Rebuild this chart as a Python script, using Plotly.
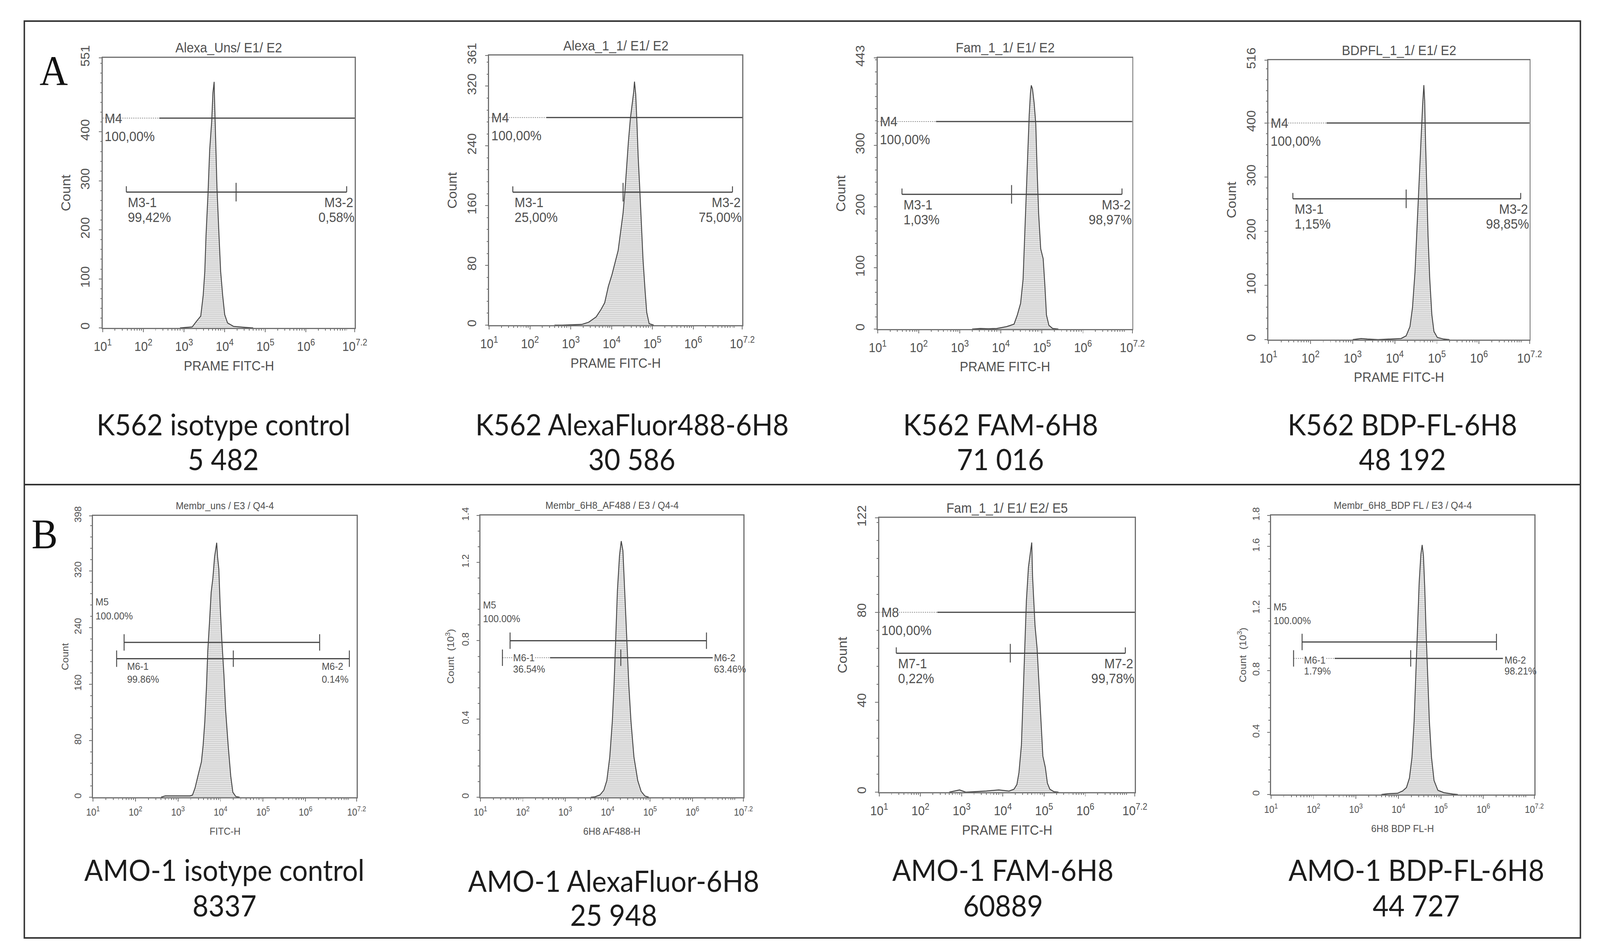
import numpy as np
import plotly.graph_objects as go

W, H = 4406, 2436

# ---------------------------------------------------------------------
# Histogram outlines: fluorescence intensity vs. events

# Row A - K562
A1_FL = [794, 1122, 1585, 2089, 2570, 2951, 3236, 3467, 3890, 4266, 4786, 5129, 5495, 5623,
         6026, 6457, 7244, 7943, 8913, 10000, 11749, 16596, 32359, 50119]
A1_COUNT = [0, 1, 2, 15, 24, 66, 115, 188, 276, 363, 422, 480, 502, 466,
            383, 285, 188, 115, 66, 27, 10, 3, 1, 0]

A2_FL = [398, 617, 1862, 2754, 4169, 5495, 6761, 8318, 10233, 12589, 14454, 16596, 19055, 21380,
         23442, 25704, 28840, 32359, 34674, 36308, 38905, 41687, 44668, 48978, 53703, 58884,
         66069, 72444, 83176, 107152]
A2_COUNT = [0, 0, 1, 4, 11, 21, 30, 52, 68, 87, 100, 125, 150, 182,
            214, 245, 277, 299, 312, 326, 309, 271, 226, 182, 134, 87,
            46, 17, 2, 0]

A3_FL = [1995, 3162, 5012, 7943, 13804, 20893, 25119, 30200, 34674, 38019, 41687, 45709, 48978,
         52481, 54954, 58884, 64565, 70795, 75858, 83176, 93325, 107152, 117490, 128825, 147911,
         181970, 251189]
A3_COUNT = [0, 1, 0.5, 1, 4, 8, 23, 42, 81, 150, 227, 296, 350,
            385, 398, 392, 369, 335, 265, 188, 131, 115, 73, 23, 6,
            1, 0]

A4_FL = [1000, 1585, 2239, 3981, 14125, 18621, 22909, 26303, 30200, 33113, 37154, 41687, 45709,
         48978, 51286, 53703, 57544, 61660, 67608, 75858, 85114, 102329, 144544, 199526]
A4_COUNT = [0, 2, 1, 0, 2, 7, 24, 59, 125, 191, 278, 366, 432,
            470, 441, 366, 278, 191, 112, 46, 15, 4, 1, 0]

# Row B - AMO-1
B1_FL = [398, 501, 1000, 1905, 2188, 2512, 3020, 3548, 3890, 4266, 4677, 5012, 5495, 6026, 6607,
         7244, 8128, 8511, 9120, 9772, 10715, 12023, 13183, 15136, 17378, 19498, 22909, 28184]
B1_COUNT = [0, 2, 2, 2, 3, 13, 33, 50, 73, 107, 157, 207, 247, 290, 310,
            340, 360, 340, 323, 273, 223, 173, 123, 73, 30, 7, 1, 0]

B2_FL = [3981, 5012, 6607, 8128, 9550, 11220, 12882, 14125, 15488, 16982, 19055, 20893, 22909,
         25119, 28184, 31623, 35481, 41687, 51286, 61660, 75858, 93325]
B2_COUNT_K = [0, 0.002, 0.012, 0.036, 0.085, 0.206, 0.388, 0.57, 0.81, 1.055, 1.236, 1.309, 1.26,
              1.055, 0.81, 0.57, 0.388, 0.206, 0.085, 0.03, 0.006, 0]

B3_FL = [501, 891, 1259, 3981, 7943, 14125, 18621, 21878, 24547, 28184, 30903, 33884, 37154, 41687,
         46774, 50119, 52481, 56234, 60256, 67608, 74131, 83176, 93325, 107152, 120226, 138038,
         173780, 223872]
B3_COUNT = [0, 1, 0, 0.5, 1, 0.5, 1.3, 3.4, 8.7, 21, 42, 64, 85, 100,
            107, 111, 96, 84, 74, 64, 50, 32, 16, 11, 4, 1.3,
            0.2, 0]

B4_FL = [3981, 5623, 9550, 12589, 15488, 18197, 20893, 23442, 25704, 28184, 30903, 33884, 36308,
         38905, 41687, 44668, 48978, 53703, 60256, 69183, 85114, 117490, 190546, 251189]
B4_COUNT_K = [0, 0.005, 0.008, 0.023, 0.045, 0.106, 0.24, 0.47, 0.77, 1.07, 1.37, 1.55, 1.61,
              1.54, 1.34, 1.07, 0.77, 0.47, 0.24, 0.09, 0.027, 0.012, 0.003, 0]

# Markers (gates)
# single-region gate: [level, end of dotted part]   two-region gate: [level, left, split, right]
A1_M4, A1_M3 = [428, 245], [277, 38, 19055, 1.0e7]
A2_M4, A2_M3 = [278, 251], [178, 38, 19055, 9.12e6]
A3_M4, A3_M3 = [339, 263], [220, 39, 18197, 8.9e6]
A4_M4, A4_M3 = [400, 240], [260, 38, 18621, 9.77e6]
B3_M8, B3_M7 = [80, 257], [61.8, 26, 15136, 9.33e6]
# B gates: upper [level, left, right], lower [level, left, split, right]
B1_M5, B1_M6 = [219, 54, 2.14e6], [196, 36, 19953, 1.07e7]
B2_M5, B2_M6 = [0.80, 50, 2.14e6], [0.713, 33, 20417, 3.0e6]
B4_M5, B4_M6 = [0.984, 54, 2.04e6], [0.878, 34, 19498, 2.9e6]

A1_LABELS = ["M4", "100,00%", "M3-1", "99,42%", "M3-2", "0,58%"]
A2_LABELS = ["M4", "100,00%", "M3-1", "25,00%", "M3-2", "75,00%"]
A3_LABELS = ["M4", "100,00%", "M3-1", "1,03%", "M3-2", "98,97%"]
A4_LABELS = ["M4", "100,00%", "M3-1", "1,15%", "M3-2", "98,85%"]
B1_LABELS = ["M5", "100.00%", "M6-1", "99.86%", "M6-2", "0.14%"]
B2_LABELS = ["M5", "100.00%", "M6-1", "36.54%", "M6-2", "63.46%"]
B3_LABELS = ["M8", "100,00%", "M7-1", "0,22%", "M7-2", "99,78%"]
B4_LABELS = ["M5", "100.00%", "M6-1", "1.79%", "M6-2", "98.21%"]

# y ticks (last value = top of the scale)
A1_YTICKS = [0, 100, 200, 300, 400, 551]
A2_YTICKS = [0, 80, 160, 240, 320, 361]
A3_YTICKS = [0, 100, 200, 300, 443]
A4_YTICKS = [0, 100, 200, 300, 400, 516]
B1_YTICKS = [0, 80, 160, 240, 320, 398]
B2_YTICKS = [0, 0.4, 0.8, 1.2, 1.44]
B2_YTEXT = ["0", "0.4", "0.8", "1.2", "1.4"]
B3_YTICKS = [0, 40, 80, 122]
B4_YTICKS = [0, 0.4, 0.8, 1.2, 1.6, 1.8]
B4_YTEXT = ["0", "0.4", "0.8", "1.2", "1.6", "1.8"]

DECADE_VALS = [1e1, 1e2, 1e3, 1e4, 1e5, 1e6, 10 ** 7.2]
DECADE_TEXT = ["10<sup>1</sup>", "10<sup>2</sup>", "10<sup>3</sup>", "10<sup>4</sup>",
               "10<sup>5</sup>", "10<sup>6</sup>", "10<sup>7.2</sup>"]

TITLES = ["Alexa_Uns/ E1/ E2", "Alexa_1_1/ E1/ E2", "Fam_1_1/ E1/ E2", "BDPFL_1_1/ E1/ E2",
          "Membr_uns / E3 / Q4-4", "Membr_6H8_AF488 / E3 / Q4-4", "Fam_1_1/ E1/ E2/ E5",
          "Membr_6H8_BDP FL / E3 / Q4-4"]
X_TITLES = ["PRAME FITC-H"] * 4 + ["FITC-H", "6H8 AF488-H", "PRAME FITC-H", "6H8 BDP FL-H"]
Y_TITLES = ["Count"] * 5 + ["Count  (10<sup>3</sup>)", "Count", "Count  (10<sup>3</sup>)"]
CAPTIONS = ["K562 isotype control", "K562 AlexaFluor488-6H8", "K562 FAM-6H8", "K562 BDP-FL-6H8",
            "AMO-1 isotype control", "AMO-1 AlexaFluor-6H8", "AMO-1 FAM-6H8", "AMO-1 BDP-FL-6H8"]
MFI = ["5 482", "30 586", "71 016", "48 192", "8337", "25 948", "60889", "44 727"]

#-----------------------------------------------------------------------

LINE = "#454545"
FRAME = "#707070"
TEXT = "#505050"
FONT = "Liberation Sans"
CAP_SIZE = 76

# box = left, top, right, bottom (px); fs = text size, tfs = tick label size
STYLE = [
    dict(box=(283, 148, 977, 839), fs=35, tfs=33, kind="A", cap=(615, 1084, 1173)),
    dict(box=(1347, 142, 2044, 832), fs=35, tfs=33, kind="A", cap=(1740, 1084, 1173)),
    dict(box=(2417, 148, 3118, 842), fs=35, tfs=33, kind="A", cap=(2755, 1084, 1173)),
    dict(box=(3493, 154, 4212, 869), fs=35, tfs=33, kind="A", cap=(3862, 1084, 1173)),
    dict(box=(256, 1320, 982, 2040), fs=26, tfs=25, kind="B", cap=(618, 2224, 2315),
         top_dy=(104, 68), low_dy=(-20, -53), right_x=6.37, dot=None, end_tick=True, ytoff=77),
    dict(box=(1323, 1319, 2047, 2040), fs=26, tfs=25, kind="B", cap=(1690, 2252, 2339),
         top_dy=(91, 56), low_dy=(0, -29), right_x=6.5, dot=437, end_tick=False, ytoff=83),
    dict(box=(2421, 1325, 3125, 2027), fs=35, tfs=33, kind="A", cap=(2762, 2224, 2315)),
    dict(box=(3500, 1319, 4225, 2033), fs=26, tfs=25, kind="B", cap=(3900, 2224, 2315),
         top_dy=(90, 55), low_dy=(-4, -32), right_x=6.49, dot=316, end_tick=False, ytoff=80),
]

PANELS = [
    (A1_FL, A1_COUNT, A1_YTICKS, None, A1_M4, A1_M3, A1_LABELS),
    (A2_FL, A2_COUNT, A2_YTICKS, None, A2_M4, A2_M3, A2_LABELS),
    (A3_FL, A3_COUNT, A3_YTICKS, None, A3_M4, A3_M3, A3_LABELS),
    (A4_FL, A4_COUNT, A4_YTICKS, None, A4_M4, A4_M3, A4_LABELS),
    (B1_FL, B1_COUNT, B1_YTICKS, None, B1_M5, B1_M6, B1_LABELS),
    (B2_FL, B2_COUNT_K, B2_YTICKS, B2_YTEXT, B2_M5, B2_M6, B2_LABELS),
    (B3_FL, B3_COUNT, B3_YTICKS, None, B3_M8, B3_M7, B3_LABELS),
    (B4_FL, B4_COUNT_K, B4_YTICKS, B4_YTEXT, B4_M5, B4_M6, B4_LABELS),
]

MINOR_X = [k * 10 ** d for d in range(1, 7) for k in range(2, 10)] + [1e7]

fig = go.Figure()


def seg(xref, yref, xs, y, dash="solid", color=LINE, width=3, **kw):
    fig.add_trace(go.Scatter(x=xs, y=[y] * len(xs), xaxis=xref, yaxis=yref, mode="lines",
                             line=dict(color=color, width=width, dash=dash),
                             hoverinfo="skip", showlegend=False, **kw))


def ticks(xref, yref, xs, y, size):
    fig.add_trace(go.Scatter(x=xs, y=[y] * len(xs), xaxis=xref, yaxis=yref, mode="markers",
                             marker=dict(symbol="line-ns", size=size, color=LINE,
                                         line=dict(width=2.5, color=LINE)),
                             hoverinfo="skip", showlegend=False))


def label(xref, yref, x, y, text, fs, xanchor="left", yshift=0, bg=None):
    fig.add_annotation(x=x, y=y, xref=xref, yref=yref, text=text, showarrow=False,
                       xanchor=xanchor, yanchor="middle", yshift=yshift, bgcolor=bg,
                       font=dict(family=FONT, size=fs, color=TEXT), borderpad=0)


def paper_text(x, y, text, size, family=FONT, color=TEXT, angle=0):
    fig.add_annotation(x=x / W, y=1 - y / H, xref="paper", yref="paper", text=text,
                       showarrow=False, xanchor="center", yanchor="middle", textangle=angle,
                       font=dict(family=family, size=size, color=color))


for i, ((fl, cnt, yt, ytxt, top, low, labels), st) in enumerate(zip(PANELS, STYLE), start=1):
    sfx = "" if i == 1 else str(i)
    xref, yref = "x" + sfx, "y" + sfx
    l, t, r, b = st["box"]
    fs, tfs = st["fs"], st["tfs"]
    ymax = yt[-1]
    small = st["kind"] == "B"

    fig.update_layout(**{
        "xaxis" + sfx: dict(
            domain=[l / W, r / W], anchor=yref, type="log", range=[1, 7.2],
            tickmode="array", tickvals=DECADE_VALS, ticktext=DECADE_TEXT,
            ticks="outside", ticklen=8, tickwidth=2, tickcolor=FRAME,
            ticklabelstandoff=6 if small else 8,
            showline=True, mirror=True, linecolor=FRAME, linewidth=3,
            showgrid=False, zeroline=False, automargin=False,
            tickfont=dict(family=FONT, size=tfs, color=TEXT),
            minor=dict(tickmode="array", tickvals=MINOR_X, ticks="outside", ticklen=4,
                       tickwidth=1.5, tickcolor=FRAME, showgrid=False)),
        "yaxis" + sfx: dict(
            domain=[1 - b / H, 1 - t / H], anchor=xref, range=[0, ymax],
            tickmode="array", tickvals=yt, ticktext=ytxt or [str(v) for v in yt],
            tickangle=-90, ticks="outside", ticklen=8, tickwidth=2, tickcolor=FRAME,
            ticklabelstandoff=11 if small else 12,
            showline=True, mirror=True, linecolor=FRAME, linewidth=3,
            showgrid=False, zeroline=False, automargin=False,
            tickfont=dict(family=FONT, size=tfs, color=TEXT),
            minor=dict(tickmode="linear", tick0=0, dtick=yt[1] / 5, ticks="outside",
                       ticklen=4, tickwidth=1.5, tickcolor=FRAME, showgrid=False)),
    })

    # histogram
    fig.add_trace(go.Scatter(
        x=fl, y=cnt, xaxis=xref, yaxis=yref, mode="lines",
        line=dict(color=LINE, width=2.5), fill="tozeroy", fillcolor="#e2e2e2",
        fillpattern=dict(shape="-", fgcolor="#a0a0a0", bgcolor="#e6e6e6", size=5, solidity=0.3),
        hoverinfo="skip", showlegend=False))

    if not small:
        # whole-range marker: dotted under its label, then solid
        seg(xref, yref, [10, top[1]], top[0], dash="dot", color="#8c8c8c", width=2)
        seg(xref, yref, [top[1], 10 ** 7.2], top[0])
        # two-region marker with upward end ticks
        up = ymax * 15 / (b - t)
        seg(xref, yref, [low[1], low[3]], low[0],
            error_y=dict(type="data", symmetric=False, array=[up, up], arrayminus=[0, 0],
                         width=0, thickness=2.5, color=LINE))
        ticks(xref, yref, [low[2]], low[0], 34)

        label(xref, yref, 1.04, top[0], labels[0], fs, yshift=0)
        label(xref, yref, 1.04, top[0], labels[1], fs, yshift=-46)
        label(xref, yref, np.log10(low[1]) + 0.03, low[0], labels[2], fs, yshift=-26)
        label(xref, yref, np.log10(low[1]) + 0.03, low[0], labels[3], fs, yshift=-64)
        label(xref, yref, 7.17, low[0], labels[4], fs, xanchor="right", yshift=-26)
        label(xref, yref, 7.2, low[0], labels[5], fs, xanchor="right", yshift=-64)
    else:
        seg(xref, yref, [top[1], top[2]], top[0])
        ticks(xref, yref, [top[1], top[2]], top[0], 30)
        if st["dot"]:
            seg(xref, yref, [low[1], st["dot"]], low[0], dash="dot", color="#8c8c8c", width=2)
            seg(xref, yref, [st["dot"], low[3]], low[0])
        else:
            seg(xref, yref, [low[1], low[3]], low[0])
        ends = [low[1], low[2], low[3]] if st["end_tick"] else [low[1], low[2]]
        ticks(xref, yref, ends, low[0], 30)

        d0, d1 = st["top_dy"]
        label(xref, yref, 1.05, top[0], labels[0], fs, yshift=d0)
        label(xref, yref, 1.05, top[0], labels[1], fs, yshift=d1)
        e0, e1 = st["low_dy"]
        bg = "white" if st["dot"] else None
        label(xref, yref, np.log10(low[1]) + 0.24, low[0], labels[2], fs, yshift=e0, bg=bg)
        label(xref, yref, np.log10(low[1]) + 0.24, low[0], labels[3], fs, yshift=e1)
        label(xref, yref, st["right_x"], low[0], labels[4], fs, yshift=e0, bg=bg)
        label(xref, yref, st["right_x"], low[0], labels[5], fs, yshift=e1)

    # panel title and axis titles
    paper_text((l + r) / 2, t - 26, TITLES[i - 1], fs)
    paper_text((l + r) / 2, b + (87 if small else 96), X_TITLES[i - 1], fs)
    paper_text(l - st.get("ytoff", 102), (t + b) / 2, Y_TITLES[i - 1], fs, angle=-90)

    # caption below the histogram
    cx, cy1, cy2 = st["cap"]
    paper_text(cx, cy1, CAPTIONS[i - 1], CAP_SIZE, family="Lato", color="#1c1c1c")
    paper_text(cx, cy2, MFI[i - 1], CAP_SIZE, family="Lato", color="#1c1c1c")

# panel letters
paper_text(148, 182, "A", 108, family="Liberation Serif", color="#111")
paper_text(123, 1366, "B", 108, family="Liberation Serif", color="#111")

# outer frame and divider between A and B
fig.add_shape(type="rect", xref="paper", yref="paper", x0=67 / W, x1=4352 / W,
              y0=1 - 2400 / H, y1=1 - 54 / H, line=dict(color="#333", width=4))
fig.add_shape(type="line", xref="paper", yref="paper", x0=67 / W, x1=4352 / W,
              y0=1 - 1240 / H, y1=1 - 1240 / H, line=dict(color="#333", width=4))

fig.update_layout(width=W, height=H, margin=dict(l=0, r=0, t=0, b=0),
                  paper_bgcolor="white", plot_bgcolor="white", showlegend=False)

# the browser viewport can be narrower than the figure: scale the page to fit it
FIT_JS = """
var gd = document.getElementById('{plot_id}');
var root = document.documentElement;
root.style.overflow = 'hidden';
document.body.style.margin = '0';
document.body.style.overflow = 'hidden';
var vw = root.clientWidth, vh = root.clientHeight;
var box = gd.parentNode;
box.style.width = vw + 'px';
box.style.height = vh + 'px';
box.style.overflow = 'hidden';
gd.style.transformOrigin = '0 0';
gd.style.transform = 'scale(' + (vw / 4406) + ',' + (vh / 2436) + ')';
"""

fig.write_html("out.html", post_script=FIT_JS, config={"displayModeBar": False})
